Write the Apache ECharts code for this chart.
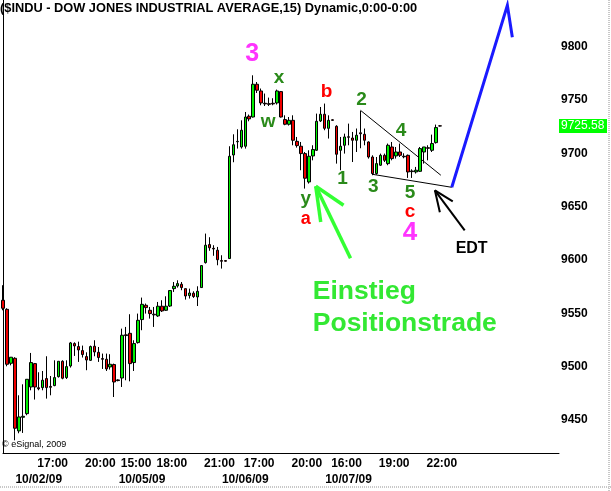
<!DOCTYPE html>
<html><head><meta charset="utf-8">
<script src="https://cdn.jsdelivr.net/npm/echarts@6/dist/echarts.min.js"></script>
<style>html,body{margin:0;padding:0;background:#fff;overflow:hidden}#c{width:611px;height:491px}</style>
</head><body><div id="c"></div>
<script>
// ---------- DATA ----------
const titleText = '($INDU - DOW JONES INDUSTRIAL AVERAGE,15) Dynamic,0:00-0:00';
const sessionDays = ['10/01/09', '10/02/09', '10/05/09', '10/06/09', '10/07/09'];
const firstDayBars = 7; // only the last bars of 10/01 are visible
const lastPrice = 9725.58;

const opens = [9562.2,9553.7,9503.1,9507.8,9439.7,9452.5,9455.9,9480.9,9502.8,9480.2,9480.3,9488.8,9481.4,9482.2,9490.6,9505.0,9489.7,9500.6,9521.6,9518.8,9515.0,9509.4,9505.9,9519.1,9513.4,9507.5,9506.9,9499.7,9501.9,9487.5,9489.3,9529.8,9531.2,
9503.8,9522.5,9544.1,9557.5,9552.8,9549.1,9547.5,9556.6,9552.8,9556.8,9573.1,9575.6,9577.2,9573.1,9566.6,9568.8,9565.3,9574.1,9597.5,9614.4,9610.9,9609.1,9599.4,9599.4,9601.3,9698.4,
9710.8,9705.9,9706.6,9734.7,9734.0,9764.7,9758.4,9746.9,9746.5,9746.9,9747.2,9757.8,9731.6,9727.2,9730.9,9711.2,9706.6,9699.7,9673.1,9697.5,9702.8,9730.3,9736.6,9723.4,9731.4,9725.3,
9702.8,9707.5,9715.5,9714.3,9712.2,9719.2,9717.8,9710.6,9696.5,9681.0,9688.8,9698.1,9690.3,9705.9,9697.5,9701.2,9697.2,9698.1,9683.4,9682.5,9683.1,9701.2,9705.2,9702.8,9710.0,9725.7];
const closes = [9554.7,9502.2,9508.8,9442.2,9452.8,9453.4,9488.1,9503.8,9480.9,9479.2,9487.2,9480.3,9480.6,9489.7,9505.0,9489.1,9500.0,9522.2,9519.4,9515.6,9511.3,9506.2,9518.8,9513.7,9508.5,9506.9,9497.8,9502.2,9485.6,9486.9,9529.4,9529.1,9502.8,
9521.6,9543.4,9558.4,9555.3,9549.7,9548.5,9556.6,9552.2,9556.6,9571.3,9575.3,9577.8,9574.1,9566.2,9569.0,9565.7,9570.6,9594.7,9613.8,9611.4,9610.3,9600.2,9598.8,9598.8,9697.2,9708.0,
9711.2,9721.6,9734.0,9732.2,9764.7,9759.1,9747.2,9746.3,9745.9,9746.3,9758.4,9734.0,9727.2,9730.9,9712.2,9707.2,9699.7,9676.6,9697.2,9703.5,9730.0,9736.6,9723.4,9730.9,9730.9,9699.1,
9706.6,9715.3,9715.0,9712.2,9716.9,9718.3,9712.2,9696.5,9681.0,9690.3,9698.1,9693.4,9707.5,9695.0,9701.2,9698.1,9696.7,9682.5,9682.8,9684.1,9704.4,9705.9,9704.7,9709.1,9724.1,9725.58];
const highs = [9576.3,9554.7,9509.0,9508.8,9473.1,9483.4,9488.1,9512.8,9503.4,9494.7,9495.9,9509.7,9491.2,9505.9,9505.0,9505.9,9505.9,9523.1,9522.8,9523.4,9519.7,9513.4,9519.7,9524.7,9518.4,9512.2,9512.2,9511.6,9502.8,9488.1,9535.6,9537.2,9549.1,
9524.7,9549.7,9564.7,9559.1,9555.9,9555.9,9560.6,9562.2,9565.9,9571.6,9579.3,9580.9,9579.3,9573.1,9573.1,9570.6,9575.3,9595.0,9624.7,9621.3,9613.8,9612.2,9604.4,9599.7,9706.6,9717.8,
9722.5,9730.9,9738.7,9736.3,9773.1,9766.8,9760.7,9756.0,9752.2,9751.6,9759.7,9758.4,9735.6,9734.0,9735.6,9715.3,9710.6,9701.2,9702.8,9707.5,9737.2,9743.4,9746.6,9735.6,9731.9,9726.3,
9715.3,9718.4,9727.8,9720.0,9723.2,9739.7,9723.2,9711.2,9698.1,9696.5,9699.7,9699.7,9709.1,9710.6,9705.9,9709.1,9700.0,9698.8,9685.0,9687.2,9705.9,9705.9,9707.5,9717.5,9726.9,9726.3];
const lows = [9552.8,9500.3,9501.2,9430.9,9437.5,9437.8,9454.4,9477.8,9469.1,9477.8,9477.8,9470.0,9473.1,9481.6,9489.7,9488.1,9488.4,9499.1,9510.0,9504.4,9508.5,9496.6,9505.3,9509.7,9504.4,9497.8,9495.9,9497.2,9471.5,9486.2,9480.9,9487.2,9486.2,
9495.9,9521.6,9534.1,9549.7,9545.0,9537.2,9546.6,9551.2,9552.2,9555.9,9570.0,9574.1,9571.6,9562.8,9563.8,9564.4,9556.8,9573.9,9596.6,9608.6,9603.9,9595.0,9591.9,9598.5,9601.1,9691.6,
9704.4,9704.4,9704.4,9730.0,9733.5,9756.5,9745.0,9744.3,9744.3,9745.0,9745.7,9733.5,9726.3,9726.0,9707.5,9705.3,9684.1,9666.9,9671.6,9693.4,9702.2,9729.3,9721.6,9713.8,9730.5,9690.3,
9684.1,9699.7,9707.5,9691.8,9701.2,9704.7,9707.5,9695.0,9679.4,9680.0,9688.1,9691.8,9688.8,9693.4,9695.0,9696.5,9695.3,9676.9,9676.9,9681.0,9682.5,9690.3,9693.4,9701.2,9709.1,9725.1];

// x-axis tick labels (bar key -> shown text)
const timeTickBars  = ['10/02/09 17:00','10/02/09 20:00','10/05/09 15:45','10/05/09 18:00','10/05/09 21:00','10/06/09 17:00','10/06/09 20:00','10/07/09 16:00','10/07/09 19:00','10/07/09 22:00'];
const timeTickTexts = ['17:00','20:00','15:00','18:00','21:00','17:00','20:00','16:00','19:00','22:00'];
const dateTickBars  = ['10/02/09 16:15','10/05/09 16:15','10/06/09 16:15','10/07/09 16:15'];
const dateTickTexts = ['10/02/09','10/05/09','10/06/09','10/07/09'];

// Elliott wave annotations: [text, barPos, price, color, fontSize]
const waveLabels = [
  ['3', 62.75, 9793, '#ff33ff', 25],
  ['x', 69.5, 9771, '#2a8a1a', 19],
  ['w', 66.75, 9730, '#2a8a1a', 19],
  ['y', 76.25, 9657, '#2a8a1a', 19],
  ['a', 76.25, 9638, '#ff0000', 18],
  ['b', 81.5, 9758, '#ff0000', 19],
  ['1', 85.5, 9676, '#2a8a1a', 19],
  ['2', 90.25, 9750, '#2a8a1a', 19],
  ['3', 93.25, 9669, '#2a8a1a', 19],
  ['4', 100.25, 9721, '#2a8a1a', 19],
  ['5', 102.5, 9663, '#2a8a1a', 19],
  ['c', 102.5, 9645, '#ff0000', 19],
  ['4', 102.5, 9625, '#ff33ff', 26]
];
const edtLabel = ['EDT', 118, 9611];
const entryLines = ['Einstieg', 'Positionstrade'];
const entryPos = [[78, 9570], [78, 9540.5]];
// trend lines / arrows in data space: lists of [barPos, price]
const triUpper = [[90, 9740.3], [110.25, 9679.4]];
const triLower = [[93, 9680.3], [113, 9668.1]];
const blueProjection = [[113, 9668.1], [127, 9838.7], [128.25, 9808.7]];
const blackArrow = [[[116.25, 9627.8], [108.75, 9665.3]], [[108.75, 9665.3], [113.25, 9655.0]], [[108.75, 9665.3], [110, 9644.7]]];
const greenArrow = [[[87.5, 9601.6], [78.75, 9669.1]], [[78.75, 9669.1], [85.75, 9651.3]], [[78.75, 9669.1], [80, 9635.6]]];

// ---------- BUILD ----------
function sessionTimes() {
  const t = [];
  for (let m = 15 * 60 + 45; m <= 22 * 60; m += 15) {
    t.push(String(Math.floor(m / 60)).padStart(2, '0') + ':' + String(m % 60).padStart(2, '0'));
  }
  return t;
}
const categories = [];
sessionDays.forEach((d, k) => {
  let times = sessionTimes();
  if (k === 0) times = times.slice(-firstDayBars);
  times.forEach(t => categories.push(d + ' ' + t));
});
const totalSlots = 141;
while (categories.length < totalSlots) categories.push('pad' + categories.length);

const timeMap = {}; timeTickBars.forEach((b, i) => timeMap[b] = timeTickTexts[i]);
const dateMap = {}; dateTickBars.forEach((b, i) => dateMap[b] = dateTickTexts[i]);
const candleData = opens.map((o, i) => [o, closes[i], lows[i], highs[i]]);

const FONT = "'Liberation Sans', Arial, sans-serif";
const chart = echarts.init(document.getElementById('c'), null, {renderer: 'canvas'});
const labelStyle = {fontFamily: FONT, fontWeight: 'bold', fontSize: 12, color: '#000'};

chart.setOption({
  animation: false,
  backgroundColor: '#fff',
  grid: {left: 0, top: 0, width: 559, height: 453, containLabel: false},
  xAxis: [
    {type: 'category', data: categories, boundaryGap: false,
     axisLine: {show: true, lineStyle: {color: '#000', width: 1}}, axisTick: {show: false}, splitLine: {show: false},
     axisLabel: Object.assign({interval: 0, margin: 5, padding: [0, 0, 0, 4], formatter: v => timeMap[v] || ''}, labelStyle)},
    {type: 'category', data: categories, boundaryGap: false, position: 'bottom', offset: 16,
     axisLine: {show: false}, axisTick: {show: false}, splitLine: {show: false},
     axisLabel: Object.assign({interval: 0, margin: 5, formatter: v => dateMap[v] || ''}, labelStyle)},
    {type: 'value', min: 0, max: totalSlots - 1, show: false}
  ],
  yAxis: {type: 'value', position: 'right', min: 9419, max: 9843.7, splitNumber: 8,
    axisLine: {show: true, lineStyle: {color: '#000', width: 1}}, axisTick: {show: false}, splitLine: {show: false},
    axisLabel: Object.assign({showMinLabel: false, showMaxLabel: false, margin: 2, align: 'left', formatter: v => String(Math.round(v))}, labelStyle)},
  series: [{
    type: 'candlestick', data: candleData, barWidth: 3, xAxisIndex: 0,
    itemStyle: {color: '#00f000', color0: '#f00000', borderColor: '#000', borderColor0: '#000', borderColorDoji: '#000', borderWidth: 1}
  }]
});

function px(p) { return chart.convertToPixel({xAxisIndex: 2, yAxisIndex: 0}, p); }
const g = [];
// title
g.push({type: 'text', left: 0, top: 2, style: {text: titleText, font: 'bold 12.8px ' + FONT, fill: '#000'}});
// copyright
g.push({type: 'text', left: 2, top: 440, style: {text: '\u00a9 eSignal, 2009', font: '9px ' + FONT, fill: '#000'}});
// wave labels
waveLabels.forEach(w => {
  const p = px([w[1], w[2]]);
  g.push({type: 'text', x: p[0], y: p[1], style: {text: w[0], font: 'bold ' + w[4] + 'px ' + FONT, fill: w[3], align: 'center', verticalAlign: 'middle'}});
});
{
  const p = px([edtLabel[1], edtLabel[2]]);
  g.push({type: 'text', x: p[0], y: p[1], style: {text: edtLabel[0], font: 'bold 16px ' + FONT, fill: '#000', align: 'center', verticalAlign: 'middle'}});
}
entryLines.forEach((t, i) => {
  const p = px(entryPos[i]);
  g.push({type: 'text', x: p[0], y: p[1], style: {text: t, font: 'bold 26.5px ' + FONT, fill: '#33e833', align: 'left', verticalAlign: 'middle'}});
});
function poly(pts, color, w) {
  g.push({type: 'polyline', shape: {points: pts.map(px)}, style: {stroke: color, lineWidth: w, fill: null}});
}
poly(triUpper, '#000', 1);
poly(triLower, '#000', 1);
poly(blueProjection, '#1a1aff', 3);
blackArrow.forEach(s => poly(s, '#000', 2));
greenArrow.forEach(s => poly(s, '#33ff33', 3.5));
// last price tag
{
  const p = px([0, lastPrice]);
  g.push({type: 'rect', shape: {x: 559, y: p[1] - 7, width: 48, height: 14}, style: {fill: '#00ff00'}});
  g.push({type: 'text', x: 561, y: p[1], style: {text: lastPrice.toFixed(2), font: '12px ' + FONT, fill: '#fff', verticalAlign: 'middle'}});
}
// dotted frame
g.push({type: 'line', shape: {x1: 609, y1: 0, x2: 609, y2: 491}, style: {stroke: '#c8c8c8', lineWidth: 2, lineDash: [1, 1]}});
g.push({type: 'line', shape: {x1: 0, y1: 487, x2: 611, y2: 487}, style: {stroke: '#c8c8c8', lineWidth: 2, lineDash: [1, 1]}});
chart.setOption({graphic: g});
</script></body></html>
